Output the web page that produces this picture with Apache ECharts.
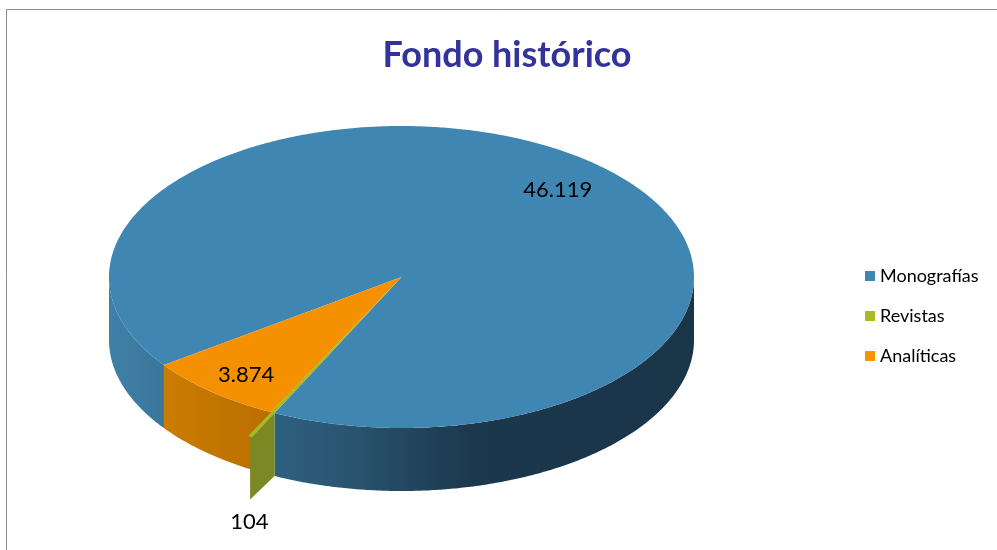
<!DOCTYPE html>
<html>
<head>
<meta charset="utf-8">
<style>html,body{margin:0;padding:0;background:#fff}#c{width:997px;height:550px}</style>
<script src="https://cdn.jsdelivr.net/npm/echarts@6/dist/echarts.min.js"></script>
</head>
<body>
<div id="c"></div>
<script>
var categories = ['Monografías', 'Revistas', 'Analíticas'];
var values = [46119, 104, 3874];
var valueLabels = ['46.119', '104', '3.874'];
var chartTitle = 'Fondo histórico';

var topColors = ['#4086b2', '#a5ba24', '#f59000'];
var legendColors = ['#4086b2', '#a8bb22', '#f79400'];
var wallStops = [
  [[0, '#3f80a8'], [0.1, '#3a7599'], [0.285, '#2e5f7f'], [0.4, '#2a5672'], [0.62, '#1c384d'], [1, '#1a3448']],
  [[0, '#7b8823'], [1, '#7b8823']],
  [[0, '#d58300'], [0.28, '#b86e00'], [1, '#b86e00']]
];

var CX = 401.5, CY = 277, RX = 292.5, RY = 151, DEPTH = 63;
var FIRST_ANGLE = 234.3, PULL = 1.177;
var labelPlace = [[42.8, 0.786, 0], [206, 1.186, 84], [219.2, 0.84, 0]];

var total = values.reduce(function (a, b) { return a + b; }, 0);
var spans = [], acc = FIRST_ANGLE;
values.forEach(function (v) {
  var s = v / total * 360;
  spans.push([acc, acc + s]);
  acc += s;
});

function pt(a, r, dy) {
  var t = a * Math.PI / 180;
  return [CX + RX * r * Math.sin(t), CY - RY * r * Math.cos(t) + (dy || 0)];
}
function arc(a0, a1, r, dy) {
  var n = Math.max(2, Math.ceil(Math.abs(a1 - a0) * 2)), out = [];
  for (var k = 0; k <= n; k++) out.push(pt(a0 + (a1 - a0) * k / n, r, dy));
  return out;
}
function wallGradient(i) {
  return {
    type: 'linear', global: true, x: CX - RX, y: 0, x2: CX + RX, y2: 0,
    colorStops: wallStops[i].map(function (s) { return { offset: s[0], color: s[1] }; })
  };
}
function renderSlice(i) {
  return function () {
    var a0 = spans[i][0], a1 = spans[i][1], kids = [];
    var grad = wallGradient(i);
    var pull = i === 1 ? PULL : 1;
    if (i === 1) {
      var m = (a0 + a1) / 2;
      kids.push({ type: 'polygon', shape: { points: [pt(a0, 1), pt(m, pull), pt(m, pull, DEPTH), pt(a0, 1, DEPTH)] },
        style: { fill: grad } });
    } else {
      // the outer wall is visible only on the lower half of the ellipse
      [[90, 270], [450, 630]].forEach(function (w) {
        var s = Math.max(a0, w[0]), e = Math.min(a1, w[1]);
        if (e > s) {
          kids.push({ type: 'polygon', shape: { points: arc(s, e, 1).concat(arc(e, s, 1, DEPTH)) },
            style: { fill: grad } });
        }
      });
    }
    var top = [[CX, CY]].concat(arc(a0, a1, pull));
    kids.push({ type: 'polygon', shape: { points: top }, style: { fill: topColors[i] } });
    var lp = pt(labelPlace[i][0], labelPlace[i][1], labelPlace[i][2]);
    kids.push({ type: 'text', x: lp[0], y: lp[1], z2: 50,
      style: { text: valueLabels[i], fill: '#000', font: '22px Lato', align: 'center', verticalAlign: 'middle' } });
    return { type: 'group', children: kids };
  };
}

var zOrder = [1, 3, 2];
var series = categories.map(function (name, i) {
  return {
    type: 'custom', name: name, coordinateSystem: 'none', z: zOrder[i],
    silent: true, clip: false, animation: false,
    itemStyle: { color: legendColors[i] },
    data: [[values[i]]],
    renderItem: renderSlice(i)
  };
});

var chart = echarts.init(document.getElementById('c'), null, { renderer: 'canvas' });
chart.setOption({
  backgroundColor: '#fff',
  animation: false,
  title: {
    text: chartTitle, left: 502, top: 32, textAlign: 'center',
    textStyle: { color: '#333399', fontFamily: 'Lato', fontWeight: 'bold', fontSize: 36 }
  },
  legend: {
    orient: 'vertical', left: 865, top: 267, itemWidth: 10, itemHeight: 10, itemGap: 22,
    icon: 'rect', selectedMode: false, padding: 0,
    data: categories,
    textStyle: { color: '#000', fontFamily: 'Lato', fontSize: 18 }
  },
  graphic: [
    { type: 'line', shape: { x1: 6.5, y1: 9.5, x2: 997, y2: 9.5 }, style: { stroke: '#8c8c8c', lineWidth: 1 } },
    { type: 'line', shape: { x1: 6.5, y1: 9.5, x2: 6.5, y2: 550 }, style: { stroke: '#8c8c8c', lineWidth: 1 } }
  ],
  series: series
});
</script>
</body>
</html>
